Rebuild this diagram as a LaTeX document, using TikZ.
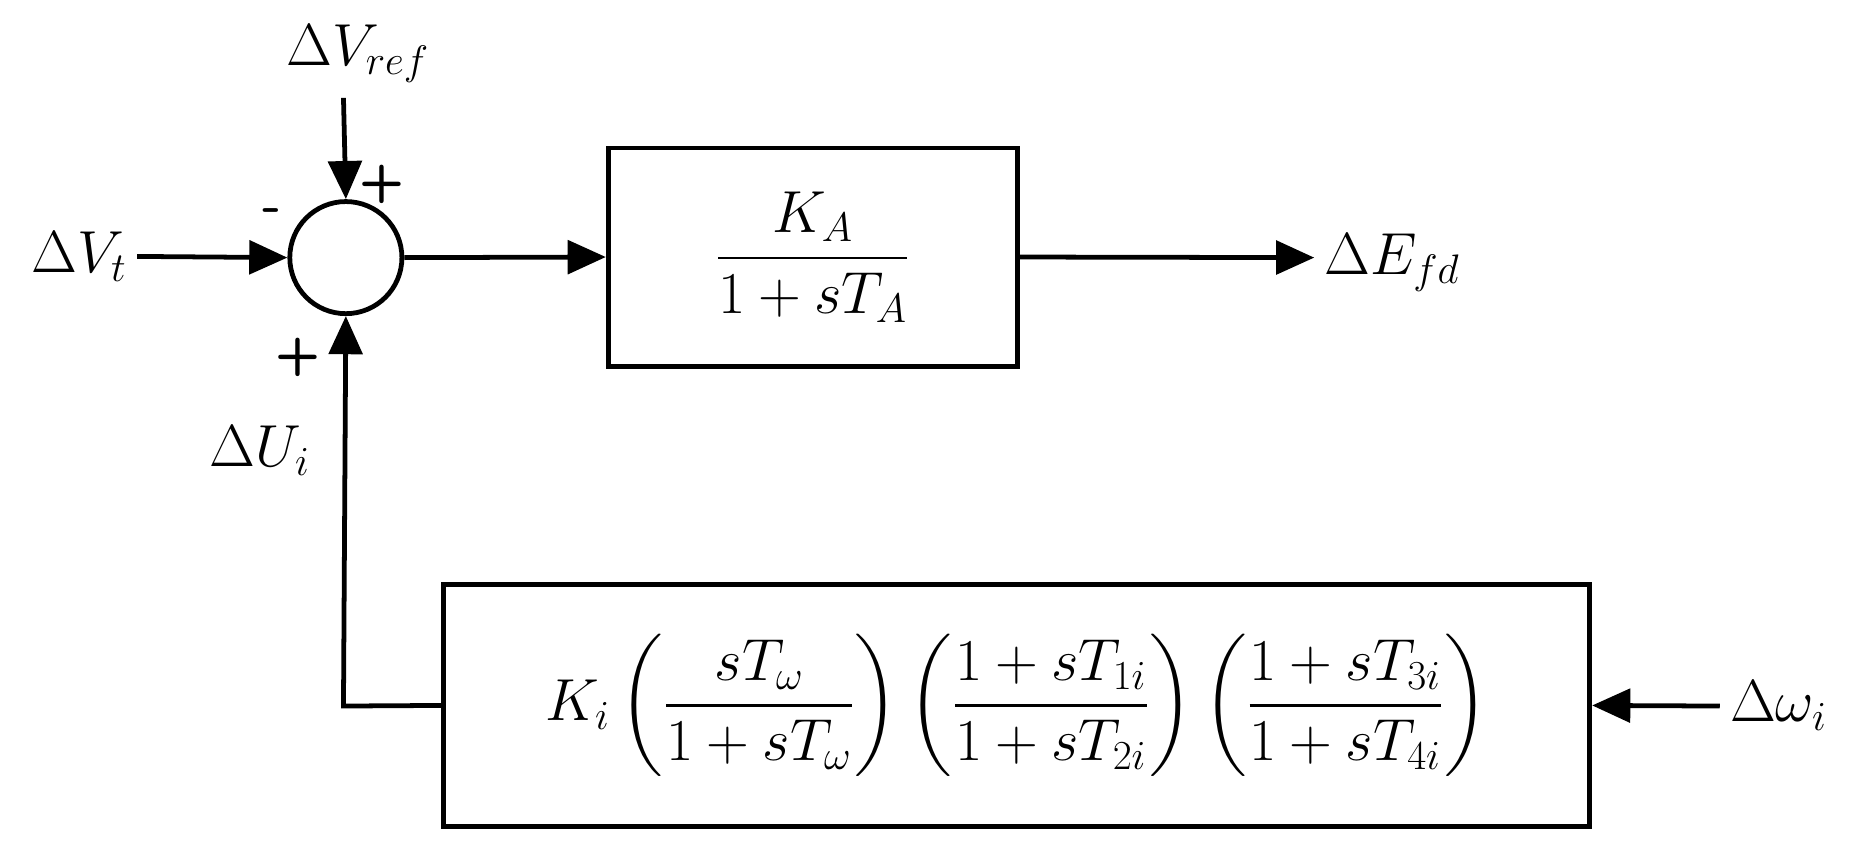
\documentclass[tikz,border=0pt]{standalone}
\usepackage{amsmath}
\usetikzlibrary{arrows.meta}
\begin{document}
\begin{tikzpicture}[x=0.5pt,y=-0.5pt,line width=2pt,
  font=\fontsize{25}{30}\selectfont,
  sig/.style={-{Triangle[length=16pt,width=14pt]}},
  blk/.style={draw,line width=2pt,inner sep=0pt},
  sgn/.style={font=\fontsize{22}{26}\selectfont\bfseries\sffamily}]
\useasboundingbox (0,0) rectangle (1568,720);
\node[draw,circle,minimum size=47pt,inner sep=0pt] (sum) at (290,216) {};
\node (vref) at (300,45) {$\Delta V_{ref}$};
\coordinate (vreft) at (288,82);
\node[anchor=east] (vt) at (115,215) {$\Delta V_t$};
\node[sgn] (m) at (228,181) {\textbf{-}};
\node[sgn] (p1) at (320,155) {+};
\node[sgn] (p2) at (250,300) {+};
\node[blk,minimum width=171.5pt,minimum height=91.5pt] (b1) at (681.5,215.5) {$\dfrac{K_A}{1+sT_A}$};
\coordinate (efdt) at (1102,216);
\node[anchor=west] (efd) at (1102,220) {$\Delta E_{fd}$};
\node[blk,minimum width=480.5pt,minimum height=101.5pt] (b2) at (852.5,591.5)
 {$K_i\left(\dfrac{sT_\omega}{1+sT_\omega}\right)\left(\dfrac{1+sT_{1i}}{1+sT_{2i}}\right)\left(\dfrac{1+sT_{3i}}{1+sT_{4i}}\right)$};
\node (ui) at (218,378) {$\Delta U_i$};
\node[anchor=west] (wi) at (1442,592) {$\Delta\omega_i$};
\coordinate (corner) at (288,592);
\draw[sig] (vreft) -- (sum.north);
\draw[sig] (vt.east) -- (sum.west);
\draw[sig] (sum.east) -- (b1.west);
\draw[sig] (b1.east) -- (efdt);
\draw[sig] (b2.west) -- (corner) -- (sum.south);
\draw[sig] (wi.west) -- (b2.east);
\end{tikzpicture}
\end{document}
